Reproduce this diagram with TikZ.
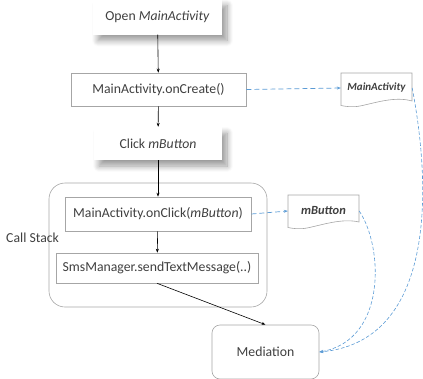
\documentclass[tikz,border=0pt]{standalone}
\usepackage{fontspec}
\setmainfont{Carlito}
\usetikzlibrary{arrows.meta,shadows.blur}
\definecolor{txt}{HTML}{404040}
\definecolor{bord}{HTML}{A6A6A6}
\definecolor{blu}{HTML}{5B9BD5}
\begin{document}
\begin{tikzpicture}[x=1bp,y=-1bp,
  font=\fontsize{13.8}{16}\selectfont, text=txt,
  event/.style={fill=white, inner sep=0pt, blur shadow={shadow xshift=5bp, shadow yshift=-6bp, shadow blur radius=6bp, shadow blur steps=10, shadow opacity=40}},
  box/.style={draw=bord, line width=0.6pt, fill=white, inner sep=0pt},
  docnode/.style={inner sep=0pt, font=\fontsize{11}{13}\selectfont\bfseries\itshape},
  doc/.style={draw=bord, line width=0.6pt, fill=white},
  flow/.style={draw=black, line width=0.6pt, -{Stealth[length=4bp,width=3bp]}},
  dep/.style={draw=blu, line width=0.7pt, dash pattern=on 5bp off 3bp, -{Stealth[length=4bp,width=3bp]}},
  ret/.style={draw=blu, line width=0.6pt, dash pattern=on 3.5bp off 2bp, -{Stealth[length=4bp,width=3bp]}}]
\useasboundingbox (0,0) rectangle (423,379);

% call stack container
\node[draw=bord, line width=0.6pt, rounded corners=16bp, minimum width=218bp, minimum height=124bp] (stack) at (158,245) {};
\node[anchor=west, inner sep=0pt] (cs) at (6,238) {Call Stack};

\node[event, minimum width=129bp, minimum height=35bp] (open) at (157.5,17) {Open \textit{MainActivity}};
\node[box, minimum width=175bp, minimum height=33bp] (create) at (158.5,89.5) {MainActivity.onCreate()};
\node[event, minimum width=128bp, minimum height=33bp] (click) at (158,143.5) {Click \textit{mButton}};
\node[box, minimum width=186bp, minimum height=34bp] (onclick) at (158,214) {MainActivity.onClick(\textit{mButton})};
\node[box, minimum width=202bp, minimum height=30bp] (send) at (157,268) {SmsManager.sendTextMessage(..)};
\node[box, rounded corners=8bp, minimum width=107bp, minimum height=54bp] (med) at (265.5,352) {Mediation};

% documents
\path[doc] (341,73) -- (412,73) -- (412,101) .. controls (395,96) and (375,103) .. (360,106) .. controls (352,107.5) and (346,106.5) .. (341,105.5) -- cycle;
\node[docnode, minimum width=71bp, minimum height=30bp] (ma) at (376.5,88) {MainActivity};
\path[doc] (288,195) -- (359,195) -- (359,222) .. controls (342,218) and (322,225) .. (307,228) .. controls (299,229.5) and (293,228.5) .. (288,227.5) -- cycle;
\node[docnode, font=\fontsize{12.5}{14}\selectfont\bfseries\itshape, minimum width=71bp, minimum height=30bp] (mb) at (323.5,211) {mButton};

% flow
\draw[flow] (open) -- (create);
\draw[flow] (create) -- (click);
\draw[flow] (click) -- (onclick);
\draw[flow] (onclick) -- (send);
\draw[flow] (send.south) -- (med.north);

% dependencies
\draw[dep] (create.east) -- (ma.west);
\draw[dep] (onclick.east) -- (mb.west);
\draw[ret] (ma.east) .. controls +(22,115) and +(110,-10) .. (med.east);
\draw[ret] (mb.east) .. controls +(24,35) and +(68,-12) .. (med.east);
\end{tikzpicture}
\end{document}
